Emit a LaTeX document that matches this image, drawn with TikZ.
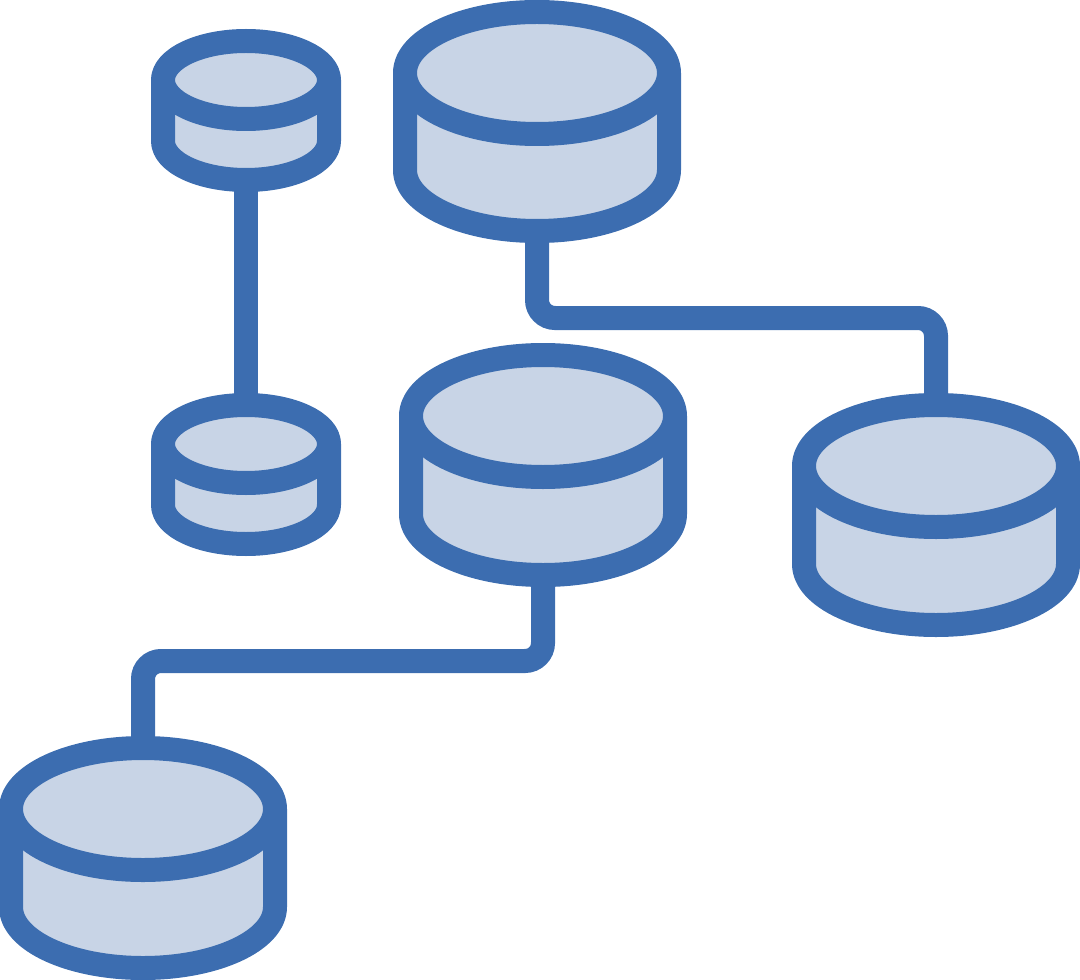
\documentclass[tikz,border=0pt]{standalone}
\definecolor{cylblue}{HTML}{3C6DB0}
\definecolor{cylfill}{HTML}{C8D4E6}
\tikzset{
  x=0.75pt,y=-0.75pt,
  cylline/.style={draw=cylblue,line width=18pt,line join=round},
  cylbody/.style={cylline,fill=cylfill},
  link/.style={draw=cylblue,line width=18pt,rounded corners=13.5pt},
  pics/cyl/.style args={#1/#2/#3}{code={
    % #1 half width, #2 ellipse half height, #3 height between ellipses
    \path[cylbody] (-#1,0) -- (-#1,#3) arc[start angle=180,end angle=360,x radius=#1*0.75pt,y radius=#2*0.75pt] -- (#1,0) -- cycle;
    \path[cylbody] (0,0) ellipse[x radius=#1*0.75pt,y radius=#2*0.75pt];
  }}
}
\begin{document}
\begin{tikzpicture}
\useasboundingbox (0,0) rectangle (1080,980);
% anchors of the connectors first, cylinders on top
\coordinate (sa) at (246,180);
\coordinate (sb) at (246,405);
\coordinate (ba) at (537,231);
\coordinate (bb) at (936,405);
\coordinate (ca) at (543,575);
\coordinate (cb) at (143,748);
\draw[link] (sa) -- (sb);
\draw[link] (ba) |- (bb |- 0,318) -- (bb);
\draw[link] (ca) |- (cb |- 0,661) -- (cb);
\pic (smalltop) at (246,80) {cyl=83/39/61};
\pic (smallbot) at (246,444) {cyl=83/39/61};
\pic (bigtop) at (537,73) {cyl=132/61/97};
\pic (bigmid) at (543,416) {cyl=132/61/98};
\pic (bigright) at (936,466) {cyl=132/61/98};
\pic (bigleft) at (143,809) {cyl=132/61/98};
\end{tikzpicture}
\end{document}
